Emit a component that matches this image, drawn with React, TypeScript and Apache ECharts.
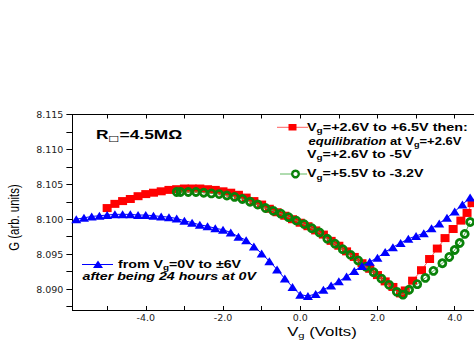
import React, { useEffect, useRef } from "react";
import * as echarts from "echarts";

// ---- data ----
const blueX = [-5.8,-5.6,-5.4,-5.2,-5.0,-4.8,-4.6,-4.4,-4.2,-4.0,-3.8,-3.6,-3.4,-3.2,-3.0,-2.8,-2.6,-2.4,-2.2,-2.0,-1.8,-1.6,-1.4,-1.2,-1.0,-0.8,-0.6,-0.4,-0.2,0.0,0.2,0.4,0.6,0.8,1.0,1.2,1.4,1.6,1.8,2.0,2.2,2.4,2.6,2.8,3.0,3.2,3.4,3.6,3.8,4.0,4.2,4.4];
const blueG = [8.1000,8.1002,8.1004,8.1005,8.1006,8.1007,8.1007,8.1007,8.1006,8.1006,8.1005,8.1004,8.1003,8.1001,8.0998,8.0995,8.0992,8.0990,8.0987,8.0985,8.0981,8.0975,8.0970,8.0961,8.0951,8.0940,8.0928,8.0915,8.0903,8.0892,8.0890,8.0893,8.0899,8.0905,8.0911,8.0918,8.0926,8.0933,8.0939,8.0945,8.0953,8.0960,8.0966,8.0972,8.0976,8.0980,8.0987,8.0994,8.1002,8.1011,8.1021,8.1031];

// red: sweep +2.6V -> +6.5V
const redUpX = [2.6,2.72,2.91,3.14,3.35,3.55,3.75,3.96,4.16,4.32,4.45,4.6];
const redUpG = [8.0894,8.0898,8.0912,8.0927,8.0943,8.0958,8.0973,8.0986,8.0998,8.1009,8.1023,8.1040];
// red: after equilibration, +2.6V -> -5V
const redDownX = [2.6,2.4,2.2,2.0,1.8,1.6,1.4,1.2,1.0,0.8,0.6,0.4,0.2,0.0,-0.2,-0.4,-0.6,-0.8,-1.0,-1.2,-1.4,-1.6,-1.8,-2.0,-2.2,-2.4,-2.6,-2.8,-3.0,-3.2,-3.4,-3.6,-3.8,-4.0,-4.2,-4.4,-4.6,-4.8,-5.0];
const redDownG = [8.0894,8.0903,8.0911,8.0920,8.0929,8.0937,8.0946,8.0954,8.0962,8.0969,8.0978,8.0984,8.0990,8.0995,8.1000,8.1005,8.1010,8.1015,8.1021,8.1026,8.1031,8.1035,8.1038,8.1040,8.1042,8.1043,8.1044,8.1044,8.1044,8.1043,8.1042,8.1040,8.1038,8.1036,8.1033,8.1029,8.1026,8.1022,8.1016];

// green: +5.5V -> -3.2V
const greenX = [4.4,4.26,4.13,4.0,3.86,3.68,3.45,3.24,3.03,2.82,2.66,2.5,2.3,2.1,1.9,1.7,1.5,1.3,1.1,0.9,0.7,0.5,0.3,0.1,-0.1,-0.3,-0.5,-0.7,-0.9,-1.1,-1.3,-1.5,-1.7,-1.9,-2.1,-2.3,-2.5,-2.7,-2.9,-3.1,-3.2];
const greenG = [8.0996,8.0979,8.0966,8.0956,8.0946,8.0937,8.0926,8.0916,8.0907,8.0899,8.0892,8.0896,8.0906,8.0915,8.0924,8.0932,8.0941,8.0949,8.0957,8.0965,8.0972,8.0981,8.0987,8.0993,8.0998,8.1003,8.1008,8.1012,8.1016,8.1021,8.1025,8.1029,8.1032,8.1034,8.1036,8.1037,8.1038,8.1039,8.1039,8.1039,8.1039];

const xTicks = [-5,-4,-3,-2,-1,0,1,2,3,4];
const xLabels = [-4,-2,0,2,4];
const yTicks = [8.0875,8.090,8.0925,8.095,8.0975,8.100,8.1025,8.105,8.1075,8.110,8.1125,8.115];
const yLabels = [8.090,8.095,8.100,8.105,8.110,8.115];

const zip = (xs: number[], ys: number[]) => xs.map((x, i) => [x, ys[i]]);

const SANS = "'Liberation Sans', Arial, sans-serif";
const TICKFONT = "'DejaVu Sans', sans-serif";

const rich = {
  b: { fontSize: 10, fontWeight: "bold", fontFamily: SANS, lineHeight: 14, fill: "#000" },
  bi: { fontSize: 10, fontWeight: "bold", fontStyle: "italic", fontFamily: SANS, lineHeight: 14, fill: "#000" },
  s: { fontSize: 7, fontWeight: "bold", fontFamily: SANS, lineHeight: 6, verticalAlign: "bottom", fill: "#000" },
  r: { fontSize: 12, fontWeight: "bold", fontFamily: SANS, lineHeight: 16, fill: "#000" },
  rs: { fontSize: 8, fontFamily: "'DejaVu Sans', sans-serif", lineHeight: 8, verticalAlign: "bottom", fill: "#000" },
  t: { fontSize: 12, fontFamily: SANS, lineHeight: 16, fill: "#000" },
  ts: { fontSize: 8, fontFamily: SANS, lineHeight: 8, verticalAlign: "bottom", fill: "#000" },
};

const txt = (x: number, y: number, text: string, sx = 1.42, align = "left") => ({
  type: "text",
  x,
  y,
  scaleX: sx,
  z: 100,
  style: { text, rich, align, verticalAlign: "middle" },
});

export default function App() {
  const ref = useRef<HTMLDivElement>(null);
  useEffect(() => {
    if (!ref.current) return;
    const chart = echarts.init(ref.current, null, { renderer: "svg" });
    const lineCommon = { type: "line", showSymbol: true, symbolKeepAspect: false, clip: true };
    chart.setOption({
      animation: false,
      backgroundColor: "#fff",
      grid: { left: 72.4, top: 114.5, width: 408.8, height: 195.5, containLabel: false },
      xAxis: [
        {
          type: "value", min: -5.9, max: 4.5, position: "bottom",
          axisLine: { show: true, onZero: false, lineStyle: { color: "#000", width: 1 } },
          axisTick: { show: true, inside: true, length: 4, customValues: xTicks, lineStyle: { color: "#000" } },
          axisLabel: { customValues: xLabels, formatter: (v: number) => v.toFixed(1), fontFamily: TICKFONT, fontSize: 9.5, color: "#222", margin: 2 },
          splitLine: { show: false },
        },
        {
          type: "value", min: -5.9, max: 4.5, position: "top",
          axisLine: { show: true, onZero: false, lineStyle: { color: "#000", width: 1 } },
          axisTick: { show: true, inside: true, length: 4, customValues: xTicks, lineStyle: { color: "#000" } },
          axisLabel: { show: false },
          splitLine: { show: false },
        },
      ],
      yAxis: {
        type: "value", min: 8.087, max: 8.115,
        axisLine: { show: true, onZero: false, lineStyle: { color: "#000", width: 1 } },
        axisTick: { show: true, inside: false, length: 6, customValues: yTicks, lineStyle: { color: "#000" } },
        axisLabel: { customValues: yLabels, formatter: (v: number) => v.toFixed(3), fontFamily: TICKFONT, fontSize: 9.5, color: "#222", margin: 9 },
        splitLine: { show: false },
      },
      series: [
        {
          ...lineCommon, name: "red", data: zip(redDownX, redDownG), symbol: "rect", symbolSize: [9, 8],
          itemStyle: { color: "#ff0000" }, lineStyle: { color: "#ff5050", width: 1 }, z: 2,
        },
        {
          ...lineCommon, name: "red", data: zip(redUpX, redUpG), symbol: "rect", symbolSize: [9, 8],
          itemStyle: { color: "#ff0000" }, lineStyle: { color: "#ff5050", width: 1 }, z: 2,
        },
        {
          ...lineCommon, name: "green", data: zip(greenX, greenG), symbol: "circle", symbolSize: 7,
          itemStyle: { color: "rgba(0,0,0,0)", borderColor: "#0a820a", borderWidth: 2.8 },
          lineStyle: { color: "#50b050", width: 1 }, z: 3,
        },
        {
          ...lineCommon, name: "blue", data: zip(blueX, blueG), symbol: "triangle", symbolSize: [10, 8],
          itemStyle: { color: "#0000ff" }, lineStyle: { color: "#0000ff", width: 1 }, z: 4,
        },
      ],
      graphic: [
        // R□ annotation
        txt(96, 134.5, "{r|R}{rs|□}{r|=4.5MΩ}", 1.45),
        // red legend
        { type: "line", z: 100, shape: { x1: 277, y1: 127.3, x2: 308, y2: 127.3 }, style: { stroke: "#ff6060", lineWidth: 1 } },
        { type: "rect", z: 101, shape: { x: 288.5, y: 124, width: 8, height: 6.5 }, style: { fill: "#ff0000" } },
        txt(307, 127.3, "{b|V}{s|g}{b|=+2.6V to +6.5V then:}", 1.44),
        txt(308.5, 141.7, "{bi|equilibration}{b| at V}{s|g}{b|=+2.6V}", 1.3),
        txt(307, 154.5, "{b|V}{s|g}{b|=+2.6V to -5V}"),
        // green legend
        { type: "line", z: 100, shape: { x1: 280, y1: 174, x2: 307, y2: 174 }, style: { stroke: "#60b860", lineWidth: 1 } },
        { type: "circle", z: 101, shape: { cx: 295.5, cy: 174, r: 3.3 }, style: { fill: "#fff", stroke: "#0a820a", lineWidth: 2.4 } },
        txt(307, 174, "{b|V}{s|g}{b|=+5.5V to -3.2V}"),
        // blue legend
        { type: "line", z: 100, shape: { x1: 82, y1: 264.5, x2: 113, y2: 264.5 }, style: { stroke: "#0000ff", lineWidth: 1 } },
        { type: "polygon", z: 101, shape: { points: [[98, 260.5], [103, 268], [93, 268]] }, style: { fill: "#0000ff" } },
        txt(118, 264.5, "{b|from V}{s|g}{b|=0V to ±6V}"),
        txt(82.5, 277, "{bi|after being 24 hours at 0V}"),
        // axis titles
        txt(322, 331.5, "{t|V}{ts|g}{t| (Volts)}", 1.4, "center"),
        {
          type: "text", x: 14, y: 217.5, rotation: Math.PI / 2, scaleX: 0.76, z: 100,
          style: { text: "G (arb. units)", fontSize: 15, fontFamily: SANS, fill: "#000", align: "center", verticalAlign: "middle" },
        },
      ],
    });
    return () => chart.dispose();
  }, []);
  return <div ref={ref} style={{ position: "absolute", left: 0, top: 0, width: 474, height: 342 }} />;
}
